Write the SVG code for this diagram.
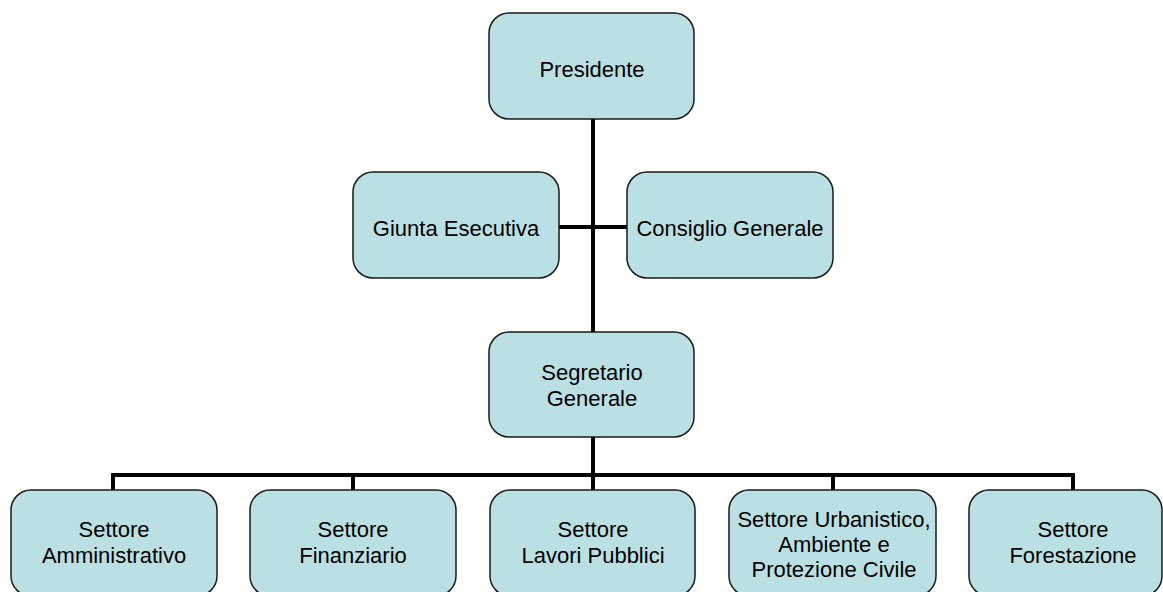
<svg xmlns="http://www.w3.org/2000/svg" width="1163" height="592" viewBox="0 0 1163 592">
<style>
.box{fill:#BBE0E3;stroke:#1a1a1a;stroke-width:1.5}
.t{font-family:"Liberation Sans",Arial,sans-serif;font-size:22px;fill:#000;text-anchor:middle}
.ln{stroke:#000;stroke-width:4;fill:none}
</style>
<rect width="1163" height="592" fill="#fff"/>
<g id="connectors">
<line class="ln" x1="593" y1="119" x2="593" y2="332"/>
<line class="ln" x1="559" y1="227" x2="627" y2="227"/>
<line class="ln" x1="593" y1="437" x2="593" y2="490"/>
<polyline class="ln" points="113,490 113,475 1073,475 1073,490"/>
<line class="ln" x1="353" y1="475" x2="353" y2="490"/>
<line class="ln" x1="833" y1="475" x2="833" y2="490"/>
</g>
<g id="presidente">
<rect class="box" x="489" y="13" width="205" height="106" rx="20"/>
<text class="t" x="592" y="77">Presidente</text>
</g>
<g id="giunta">
<rect class="box" x="353" y="172" width="206" height="106" rx="20"/>
<text class="t" x="456" y="236">Giunta Esecutiva</text>
</g>
<g id="consiglio">
<rect class="box" x="627" y="172" width="206" height="106" rx="20"/>
<text class="t" x="730" y="236">Consiglio Generale</text>
</g>
<g id="segretario">
<rect class="box" x="489" y="332" width="205" height="105" rx="20"/>
<text class="t" x="592" y="380">Segretario</text>
<text class="t" x="592" y="406">Generale</text>
</g>
<g id="amministrativo">
<rect class="box" x="11" y="490" width="206" height="106" rx="20"/>
<text class="t" x="114" y="537">Settore</text>
<text class="t" x="114" y="563">Amministrativo</text>
</g>
<g id="finanziario">
<rect class="box" x="250" y="490" width="206" height="106" rx="20"/>
<text class="t" x="353" y="537">Settore</text>
<text class="t" x="353" y="563">Finanziario</text>
</g>
<g id="lavori">
<rect class="box" x="490" y="490" width="205" height="106" rx="20"/>
<text class="t" x="593" y="537">Settore</text>
<text class="t" x="593" y="563">Lavori Pubblici</text>
</g>
<g id="urbanistico">
<rect class="box" x="729" y="490" width="207" height="106" rx="20"/>
<text class="t" x="834" y="527">Settore Urbanistico,</text>
<text class="t" x="834" y="552">Ambiente e</text>
<text class="t" x="834" y="577">Protezione Civile</text>
</g>
<g id="forestazione">
<rect class="box" x="969" y="490" width="193" height="106" rx="20"/>
<text class="t" x="1073" y="537">Settore</text>
<text class="t" x="1073" y="563">Forestazione</text>
</g>
</svg>
